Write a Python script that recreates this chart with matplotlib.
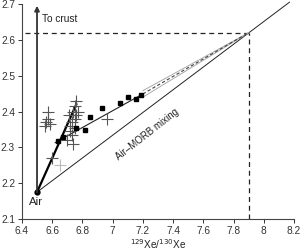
import matplotlib.pyplot as plt
import numpy as np

plt.rcParams['font.family'] = ['Liberation Sans', 'DejaVu Sans']

# data
air = (6.5, 2.175)

cross_x = [6.57, 6.57, 6.55, 6.585, 6.56,
           6.76, 6.75, 6.74, 6.76, 6.75, 6.73, 6.72, 6.75, 6.73, 6.70, 6.74,
           6.72, 6.77, 6.71, 6.60, 6.96]
cross_y = [2.40, 2.38, 2.36, 2.365, 2.37,
           2.43, 2.415, 2.40, 2.39, 2.38, 2.37, 2.36, 2.355, 2.335, 2.32, 2.31,
           2.345, 2.40, 2.39, 2.27, 2.38]
light_x = [6.65]
light_y = [2.25]

sq_x = [6.64, 6.67, 6.76, 6.82, 6.85, 6.93, 7.05, 7.10, 7.155, 7.19]
sq_y = [2.318, 2.33, 2.355, 2.347, 2.385, 2.41, 2.424, 2.44, 2.435, 2.446]

# lines
steep_x = [6.5, 6.76]
steep_y = [2.175, 2.42]
mix_x = [6.5, 8.17]
mix_y = [2.175, 2.705]
fit_x = [6.62, 7.2]
fit_y = [2.313, 2.449]
fit_ext_x = [7.2, 7.9]
fit_ext_y = [2.449, 2.62]
env_hi_y = [2.458, 2.62]
env_lo_y = [2.440, 2.62]
target = (7.9, 2.62)

fig = plt.figure(figsize=(3, 2.5), dpi=100)
ax = fig.add_axes([0.073, 0.124, 0.907, 0.86])

dark = '#222222'

# crosshair to the mixing end member
ax.plot([6.42, target[0]], [target[1], target[1]], color=dark, lw=0.9, ls=(0, (4, 3)))
ax.plot([target[0], target[0]], [2.1, target[1]], color=dark, lw=0.9, ls=(0, (4, 3)))

# mixing line and fits
ax.plot(mix_x, mix_y, color=dark, lw=0.7, clip_on=False)
ax.plot(steep_x, steep_y, color='black', lw=1.6)
ax.plot(fit_x, fit_y, color=dark, lw=0.8)
ax.plot(fit_ext_x, env_hi_y, color='#aaaaaa', lw=0.7)
ax.plot(fit_ext_x, env_lo_y, color='#aaaaaa', lw=0.7)
ax.plot(fit_ext_x, fit_ext_y, color='#444444', lw=0.8, ls=(0, (3, 2)))

# "to crust" arrow
ax.annotate('', xy=(6.5, 2.695), xytext=air,
            arrowprops=dict(arrowstyle='-|>', color='#333333', lw=1.3,
                            mutation_scale=7, shrinkA=0, shrinkB=0))

# data points
ax.plot(cross_x, cross_y, ls='none', marker='+', ms=8, mew=0.8, color='#555555')
ax.plot(light_x, light_y, ls='none', marker='+', ms=9, mew=0.8, color='#bbbbbb')
ax.plot(sq_x, sq_y, ls='none', marker='s', ms=3.0, color='black')
ax.plot([air[0]], [air[1]], ls='none', marker='o', ms=3.5, color='black')

ax.text(6.53, 2.658, 'To crust', fontsize=7.3, color=dark, va='center')
ax.text(6.49, 2.148, 'Air', fontsize=8.2, color=dark, ha='center', va='center')
ax.text(7.23, 2.335, 'Air–MORB mixing', fontsize=7, color=dark,
        rotation=38, ha='center', va='center', rotation_mode='anchor')

ax.set_xlim(6.4, 8.2)
ax.set_ylim(2.1, 2.7)
ax.set_xticks([6.4, 6.6, 6.8, 7.0, 7.2, 7.4, 7.6, 7.8, 8.0, 8.2])
ax.set_xticklabels(['6.4', '6.6', '6.8', '7', '7.2', '7.4', '7.6', '7.8', '8', '8.2'])
ax.set_yticks([2.1, 2.2, 2.3, 2.4, 2.5, 2.6, 2.7])
ax.set_xlabel('$^{129}$Xe/$^{130}$Xe', fontsize=7.2, color=dark, labelpad=1)

for s in ['top', 'right']:
    ax.spines[s].set_visible(False)
for s in ['left', 'bottom']:
    ax.spines[s].set_color('#444444')
    ax.spines[s].set_linewidth(0.8)
ax.tick_params(labelsize=7.3, colors='#333333', length=3, width=0.7, pad=2)

fig.savefig('out.png', dpi=100)
